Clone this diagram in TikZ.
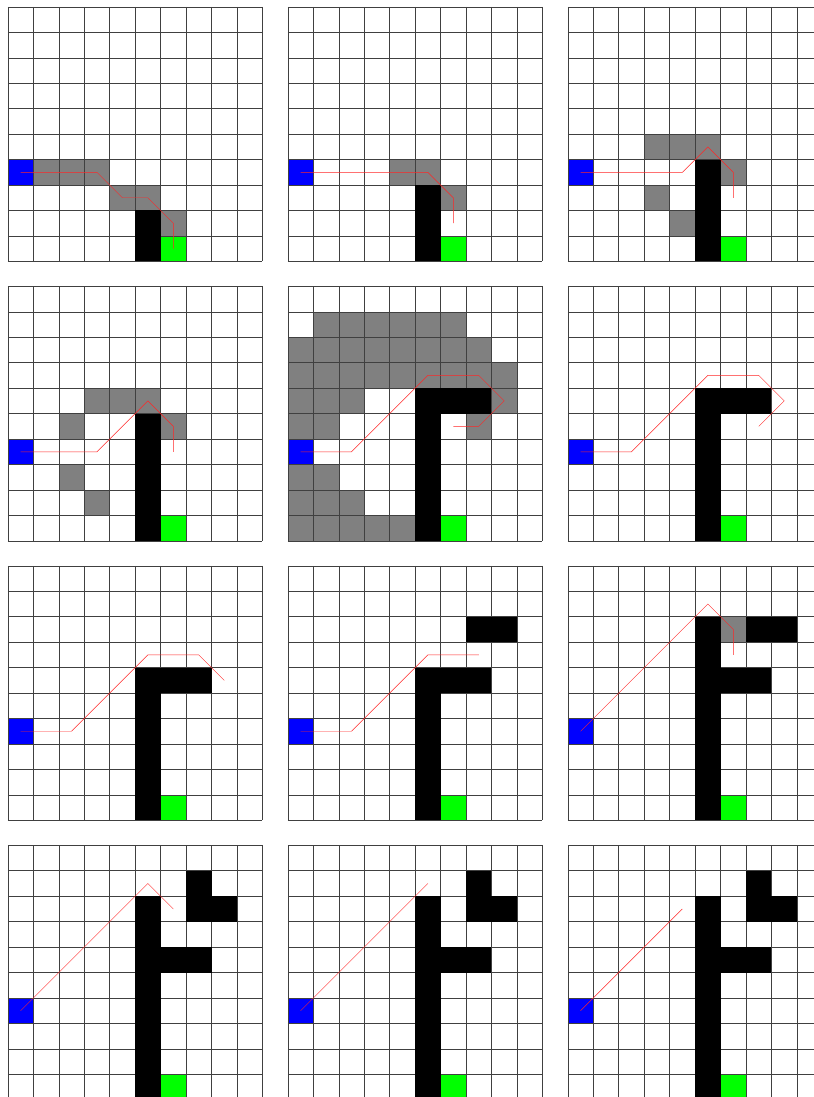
\documentclass[tikz,border=0pt]{standalone}
\usepackage{tikz}
\tikzset{
  gridln/.style={draw=black!75, line width=0.6pt},
  wall/.style={fill=black},
  seen/.style={fill=gray},
  startc/.style={fill=blue},
  goalc/.style={fill=green},
  route/.style={draw=red!85!white, line width=0.5pt, line join=miter},
}
% #1 column, #2 row, #3 explored cells, #4 walls, #5 route path
\newcommand{\panel}[5]{%
  \begin{scope}[shift={(0.31+11*#1,-0.27-10.98*#2)},yscale=-1]
    \fill[startc] (0,6) rectangle (1,7);
    \fill[goalc] (6,9) rectangle (7,10);
    #3
    \foreach \i in {0,...,10}{%
      \draw[gridln] (\i,0) -- (\i,10);
      \draw[gridln] (0,\i) -- (10,\i);
    }
    #4
    \draw[route] #5;
  \end{scope}}
\begin{document}
\begin{tikzpicture}
\useasboundingbox[fill=white] (0,0) rectangle (31.98,-43.10);
% row 0
\panel{0}{0}{%
  \fill[seen] (1,6) rectangle (4,7);
  \fill[seen] (4,7) rectangle (6,8);
  \fill[seen] (6,8) rectangle (7,9);
}{\fill[wall] (5,8) rectangle (6,10);}
{(0.5,6.5) -- (3.5,6.5) -- (4.5,7.5) -- (5.5,7.5) -- (6.5,8.5) -- (6.5,9.5)}
\panel{1}{0}{%
  \fill[seen] (4,6) rectangle (6,7);
  \fill[seen] (6,7) rectangle (7,8);
}{\fill[wall] (5,7) rectangle (6,10);}
{(0.5,6.5) -- (5.5,6.5) -- (6.5,7.5) -- (6.5,8.5)}
\panel{2}{0}{%
  \fill[seen] (3,5) rectangle (6,6);
  \fill[seen] (6,6) rectangle (7,7);
  \fill[seen] (3,7) rectangle (4,8);
  \fill[seen] (4,8) rectangle (5,9);
}{\fill[wall] (5,6) rectangle (6,10);}
{(0.5,6.5) -- (4.5,6.5) -- (5.5,5.5) -- (6.5,6.5) -- (6.5,7.5)}
% row 1
\panel{0}{1}{%
  \fill[seen] (3,4) rectangle (6,5);
  \fill[seen] (2,5) rectangle (3,6);
  \fill[seen] (6,5) rectangle (7,6);
  \fill[seen] (2,7) rectangle (3,8);
  \fill[seen] (3,8) rectangle (4,9);
}{\fill[wall] (5,5) rectangle (6,10);}
{(0.5,6.5) -- (3.5,6.5) -- (5.5,4.5) -- (6.5,5.5) -- (6.5,6.5)}
\panel{1}{1}{%
  \fill[seen] (1,1) rectangle (7,2);
  \fill[seen] (0,2) rectangle (8,3);
  \fill[seen] (0,3) rectangle (9,4);
  \fill[seen] (0,4) rectangle (3,5);
  \fill[seen] (8,4) rectangle (9,5);
  \fill[seen] (0,5) rectangle (2,6);
  \fill[seen] (7,5) rectangle (8,6);
  \fill[seen] (0,7) rectangle (2,8);
  \fill[seen] (0,8) rectangle (3,9);
  \fill[seen] (0,9) rectangle (5,10);
}{%
  \fill[wall] (5,4) rectangle (6,10);
  \fill[wall] (5,4) rectangle (8,5);
}{(0.5,6.5) -- (2.5,6.5) -- (5.5,3.5) -- (7.5,3.5) -- (8.5,4.5) -- (7.5,5.5) -- (6.5,5.5)}
\panel{2}{1}{}{%
  \fill[wall] (5,4) rectangle (6,10);
  \fill[wall] (5,4) rectangle (8,5);
}{(0.5,6.5) -- (2.5,6.5) -- (5.5,3.5) -- (7.5,3.5) -- (8.5,4.5) -- (7.5,5.5)}
% row 2
\panel{0}{2}{}{%
  \fill[wall] (5,4) rectangle (6,10);
  \fill[wall] (5,4) rectangle (8,5);
}{(0.5,6.5) -- (2.5,6.5) -- (5.5,3.5) -- (7.5,3.5) -- (8.5,4.5)}
\panel{1}{2}{}{%
  \fill[wall] (5,4) rectangle (6,10);
  \fill[wall] (5,4) rectangle (8,5);
  \fill[wall] (7,2) rectangle (9,3);
}{(0.5,6.5) -- (2.5,6.5) -- (5.5,3.5) -- (7.5,3.5)}
\panel{2}{2}{\fill[seen] (6,2) rectangle (7,3);}{%
  \fill[wall] (5,2) rectangle (6,10);
  \fill[wall] (6,4) rectangle (8,5);
  \fill[wall] (7,2) rectangle (9,3);
}{(0.5,6.5) -- (5.5,1.5) -- (6.5,2.5) -- (6.5,3.5)}
% row 3
\panel{0}{3}{}{%
  \fill[wall] (5,2) rectangle (6,10);
  \fill[wall] (6,4) rectangle (8,5);
  \fill[wall] (7,1) rectangle (8,3);
  \fill[wall] (8,2) rectangle (9,3);
}{(0.5,6.5) -- (5.5,1.5) -- (6.5,2.5)}
\panel{1}{3}{}{%
  \fill[wall] (5,2) rectangle (6,10);
  \fill[wall] (6,4) rectangle (8,5);
  \fill[wall] (7,1) rectangle (8,3);
  \fill[wall] (8,2) rectangle (9,3);
}{(0.5,6.5) -- (5.5,1.5)}
\panel{2}{3}{}{%
  \fill[wall] (5,2) rectangle (6,10);
  \fill[wall] (6,4) rectangle (8,5);
  \fill[wall] (7,1) rectangle (8,3);
  \fill[wall] (8,2) rectangle (9,3);
}{(0.5,6.5) -- (4.5,2.5)}
\end{tikzpicture}
\end{document}
